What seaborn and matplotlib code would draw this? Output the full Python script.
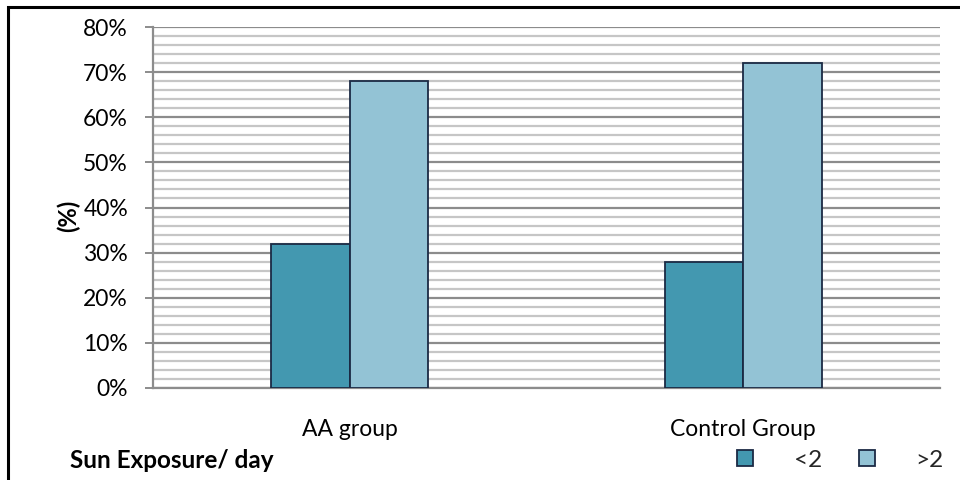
import matplotlib
matplotlib.use("Agg")
import matplotlib.pyplot as plt
from matplotlib.lines import Line2D
from matplotlib.patches import Rectangle
from matplotlib.ticker import MultipleLocator, PercentFormatter
import pandas as pd
import seaborn as sns

# Share of participants by daily sun exposure (hours)
groups = ["AA group", "Control Group"]
exposure = ["<2", ">2"]
share_lt2 = [32, 28]
share_gt2 = [68, 72]
y_ticks = [0, 10, 20, 30, 40, 50, 60, 70, 80]

colors = {"<2": "#4398B0", ">2": "#93C3D5"}
edge = "#1B2A44"

df = pd.DataFrame({
    "group": groups * 2,
    "exposure": [exposure[0]] * 2 + [exposure[1]] * 2,
    "share": share_lt2 + share_gt2,
})

sns.set_theme(style="white")
plt.rcParams["font.family"] = ["Lato", "DejaVu Sans"]

fig = plt.figure(figsize=(9.6, 4.8), dpi=100)
ax = fig.add_axes([153 / 960, 92 / 480, 787 / 960, 361 / 480])

sns.barplot(data=df, x="group", y="share", hue="exposure", order=groups,
            hue_order=exposure, palette=colors, saturation=1, width=0.4,
            ax=ax, edgecolor=edge, linewidth=1.3, legend=False, zorder=3)

ax.set_xlim(-0.5, 1.5)
ax.set_ylim(0, 80)
ax.set_yticks(y_ticks)
ax.yaxis.set_minor_locator(MultipleLocator(2))
ax.yaxis.set_major_formatter(PercentFormatter(decimals=0))

ax.grid(axis="y", which="minor", color="#C6C6C6", linewidth=1.6, zorder=0)
ax.grid(axis="y", which="major", color="#8C8C8C", linewidth=1.6, zorder=1)
ax.set_axisbelow(True)

for side in ["top", "right"]:
    ax.spines[side].set_visible(False)
for side in ["left", "bottom"]:
    ax.spines[side].set_color("#8C8C8C")
    ax.spines[side].set_linewidth(1.6)

ax.tick_params(axis="y", which="major", length=6, width=1.4, color="#8C8C8C",
               direction="out", left=True, labelsize=16.5, pad=12,
               labelcolor="black")
ax.tick_params(axis="y", which="minor", length=0)
ax.tick_params(axis="x", length=0, labelsize=16.5, pad=22, labelcolor="black")

ax.set_xlabel("")
ax.set_ylabel("(%)", fontsize=17, fontweight="bold", color="black")
ax.yaxis.set_label_coords(-0.093, 0.476)

fig.text(70 / 960, 1 - 460 / 480, "Sun Exposure/ day", fontsize=17.5,
         fontweight="bold", ha="left", va="center", color="black")

handles = [Line2D([], [], marker="s", linestyle="none", markersize=11,
                  markerfacecolor=colors[e], markeredgecolor=edge,
                  markeredgewidth=1.3) for e in exposure]
fig.legend(handles, exposure, loc="center right",
           bbox_to_anchor=(944 / 960, 1 - 460 / 480), ncol=2, frameon=False,
           fontsize=17.5, handlelength=1.0, handletextpad=1.5,
           columnspacing=1.35, borderpad=0, borderaxespad=0)

# Outer frame of the chart area
fig.patches.append(Rectangle((8 / 960, -0.1), 1.2, (480 - 7) / 480 + 0.1,
                             transform=fig.transFigure, fill=False,
                             edgecolor="black", linewidth=2.2))

fig.savefig("out.png", dpi=100)
